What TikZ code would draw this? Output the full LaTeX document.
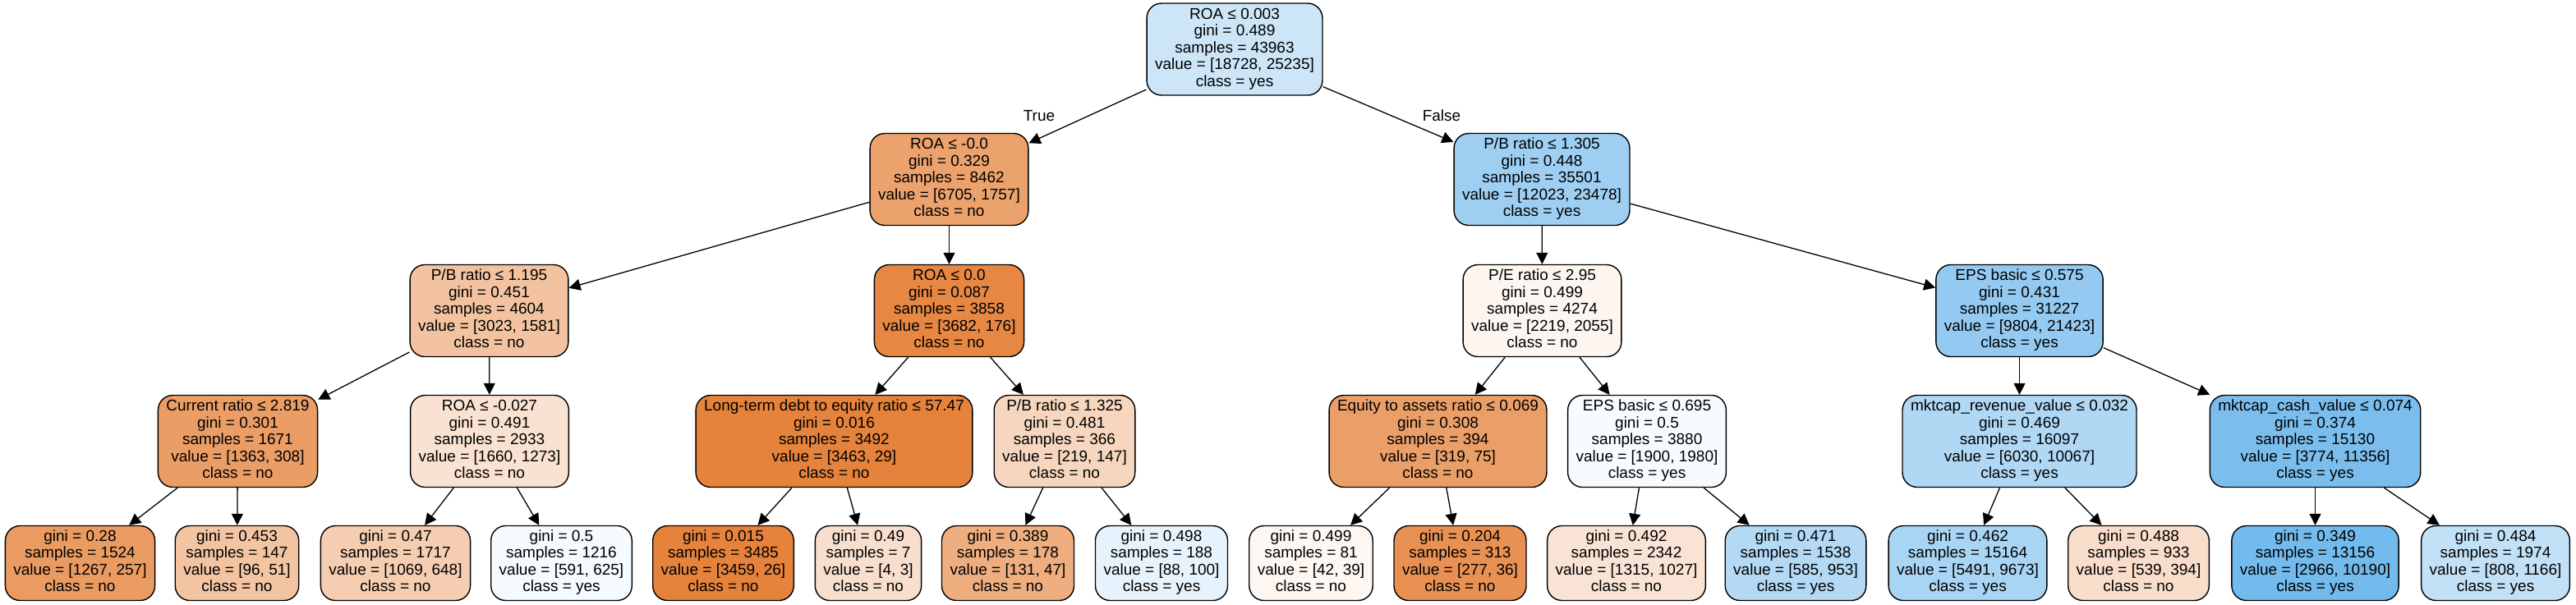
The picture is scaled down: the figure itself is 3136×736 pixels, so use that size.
\documentclass[tikz,border=0pt]{standalone}
\usepackage{fontspec}
\setmainfont{Liberation Sans}
\usetikzlibrary{arrows.meta}
\definecolor{orng}{RGB}{229,129,57}
\definecolor{blu}{RGB}{57,157,229}
\tikzset{
  tn/.style={draw=black, line width=0.7pt, rounded corners=9pt, align=center,
    inner xsep=5pt, inner ysep=0pt, minimum height=56pt,
    font=\fontsize{9.5}{10.25}\selectfont},
  lf/.style={tn, minimum height=45.5pt},
  oc/.style={fill=orng!#1!white},
  bc/.style={fill=blu!#1!white},
  arr/.style={line width=0.65pt, -{Triangle[length=7pt,width=7pt]}},
  elab/.style={font=\fontsize{9.5}{10.25}\selectfont, inner sep=0pt},
}
\begin{document}
\begin{tikzpicture}[x=0.5pt,y=-0.5pt]
\useasboundingbox (0,0) rectangle (3136,736);
% level 0
\node[tn,bc=25.8] (root) at (1503,60) {\strut ROA ≤ 0.003\\gini = 0.489\\samples = 43963\\value = [18728, 25235]\\class = yes\strut};
% level 1
\node[tn,oc=73.8] (n1) at (1155.5,218.5) {\strut ROA ≤ -0.0\\gini = 0.329\\samples = 8462\\value = [6705, 1757]\\class = no\strut};
\node[tn,bc=48.8] (n2) at (1877,218.5) {\strut P/B ratio ≤ 1.305\\gini = 0.448\\samples = 35501\\value = [12023, 23478]\\class = yes\strut};
% level 2
\node[tn,oc=47.7] (n3) at (595.5,378.5) {\strut P/B ratio ≤ 1.195\\gini = 0.451\\samples = 4604\\value = [3023, 1581]\\class = no\strut};
\node[tn,oc=95.2] (n4) at (1155.5,378.5) {\strut ROA ≤ 0.0\\gini = 0.087\\samples = 3858\\value = [3682, 176]\\class = no\strut};
\node[tn,oc=7.4] (n5) at (1877.5,378.5) {\strut P/E ratio ≤ 2.95\\gini = 0.499\\samples = 4274\\value = [2219, 2055]\\class = no\strut};
\node[tn,bc=54.2] (n6) at (2458.5,378.5) {\strut EPS basic ≤ 0.575\\gini = 0.431\\samples = 31227\\value = [9804, 21423]\\class = yes\strut};
% level 3
\node[tn,oc=77.4] (n7) at (289.5,537.5) {\strut Current ratio ≤ 2.819\\gini = 0.301\\samples = 1671\\value = [1363, 308]\\class = no\strut};
\node[tn,oc=23.3] (n8) at (596,537.5) {\strut ROA ≤ -0.027\\gini = 0.491\\samples = 2933\\value = [1660, 1273]\\class = no\strut};
\node[tn,oc=99.2] (n9) at (1015.5,537.5) {\strut Long-term debt to equity ratio ≤ 57.47\\gini = 0.016\\samples = 3492\\value = [3463, 29]\\class = no\strut};
\node[tn,oc=32.9] (n10) at (1296,537.5) {\strut P/B ratio ≤ 1.325\\gini = 0.481\\samples = 366\\value = [219, 147]\\class = no\strut};
\node[tn,oc=76.5] (n11) at (1750.5,537.5) {\strut Equity to assets ratio ≤ 0.069\\gini = 0.308\\samples = 394\\value = [319, 75]\\class = no\strut};
\node[tn,bc=4.0] (n12) at (2005,537.5) {\strut EPS basic ≤ 0.695\\gini = 0.5\\samples = 3880\\value = [1900, 1980]\\class = yes\strut};
\node[tn,bc=40.1] (n13) at (2458.5,537.5) {\strut mktcap\_revenue\_value ≤ 0.032\\gini = 0.469\\samples = 16097\\value = [6030, 10067]\\class = yes\strut};
\node[tn,bc=66.8] (n14) at (2818.5,537.5) {\strut mktcap\_cash\_value ≤ 0.074\\gini = 0.374\\samples = 15130\\value = [3774, 11356]\\class = yes\strut};
% leaves
\node[lf,oc=79.7] (l1) at (97.5,686) {\strut gini = 0.28\\samples = 1524\\value = [1267, 257]\\class = no\strut};
\node[lf,oc=46.9] (l2) at (288.5,686) {\strut gini = 0.453\\samples = 147\\value = [96, 51]\\class = no\strut};
\node[lf,oc=39.4] (l3) at (481.5,686) {\strut gini = 0.47\\samples = 1717\\value = [1069, 648]\\class = no\strut};
\node[lf,bc=5.4] (l4) at (683.5,686) {\strut gini = 0.5\\samples = 1216\\value = [591, 625]\\class = yes\strut};
\node[lf,oc=99.2] (l5) at (880.5,686) {\strut gini = 0.015\\samples = 3485\\value = [3459, 26]\\class = no\strut};
\node[lf,oc=25] (l6) at (1057,686) {\strut gini = 0.49\\samples = 7\\value = [4, 3]\\class = no\strut};
\node[lf,oc=64.1] (l7) at (1227,686) {\strut gini = 0.389\\samples = 178\\value = [131, 47]\\class = no\strut};
\node[lf,bc=12] (l8) at (1414,686) {\strut gini = 0.498\\samples = 188\\value = [88, 100]\\class = yes\strut};
\node[lf,oc=7.1] (l9) at (1596,686) {\strut gini = 0.499\\samples = 81\\value = [42, 39]\\class = no\strut};
\node[lf,oc=87] (l10) at (1777.5,686) {\strut gini = 0.204\\samples = 313\\value = [277, 36]\\class = no\strut};
\node[lf,oc=21.9] (l11) at (1980,686) {\strut gini = 0.492\\samples = 2342\\value = [1315, 1027]\\class = no\strut};
\node[lf,bc=38.6] (l12) at (2186,686) {\strut gini = 0.471\\samples = 1538\\value = [585, 953]\\class = yes\strut};
\node[lf,bc=43.2] (l13) at (2395.5,686) {\strut gini = 0.462\\samples = 15164\\value = [5491, 9673]\\class = yes\strut};
\node[lf,oc=26.9] (l14) at (2603.5,686) {\strut gini = 0.488\\samples = 933\\value = [539, 394]\\class = no\strut};
\node[lf,bc=70.9] (l15) at (2818.5,686) {\strut gini = 0.349\\samples = 13156\\value = [2966, 10190]\\class = yes\strut};
\node[lf,bc=30.7] (l16) at (3038,686) {\strut gini = 0.484\\samples = 1974\\value = [808, 1166]\\class = yes\strut};
% edge labels
\node[elab] (tl) at (1265,141) {True};
\node[elab] (fl) at (1755,141) {False};
% edges
\foreach \p/\c in {root/n1,root/n2,n1/n3,n1/n4,n2/n5,n2/n6,n3/n7,n3/n8,n4/n9,n4/n10,n5/n11,n5/n12,n6/n13,n6/n14,
  n7/l1,n7/l2,n8/l3,n8/l4,n9/l5,n9/l6,n10/l7,n10/l8,n11/l9,n11/l10,n12/l11,n12/l12,n13/l13,n13/l14,n14/l15,n14/l16}
  \draw[arr] (\p) -- (\c);
\end{tikzpicture}
\end{document}
